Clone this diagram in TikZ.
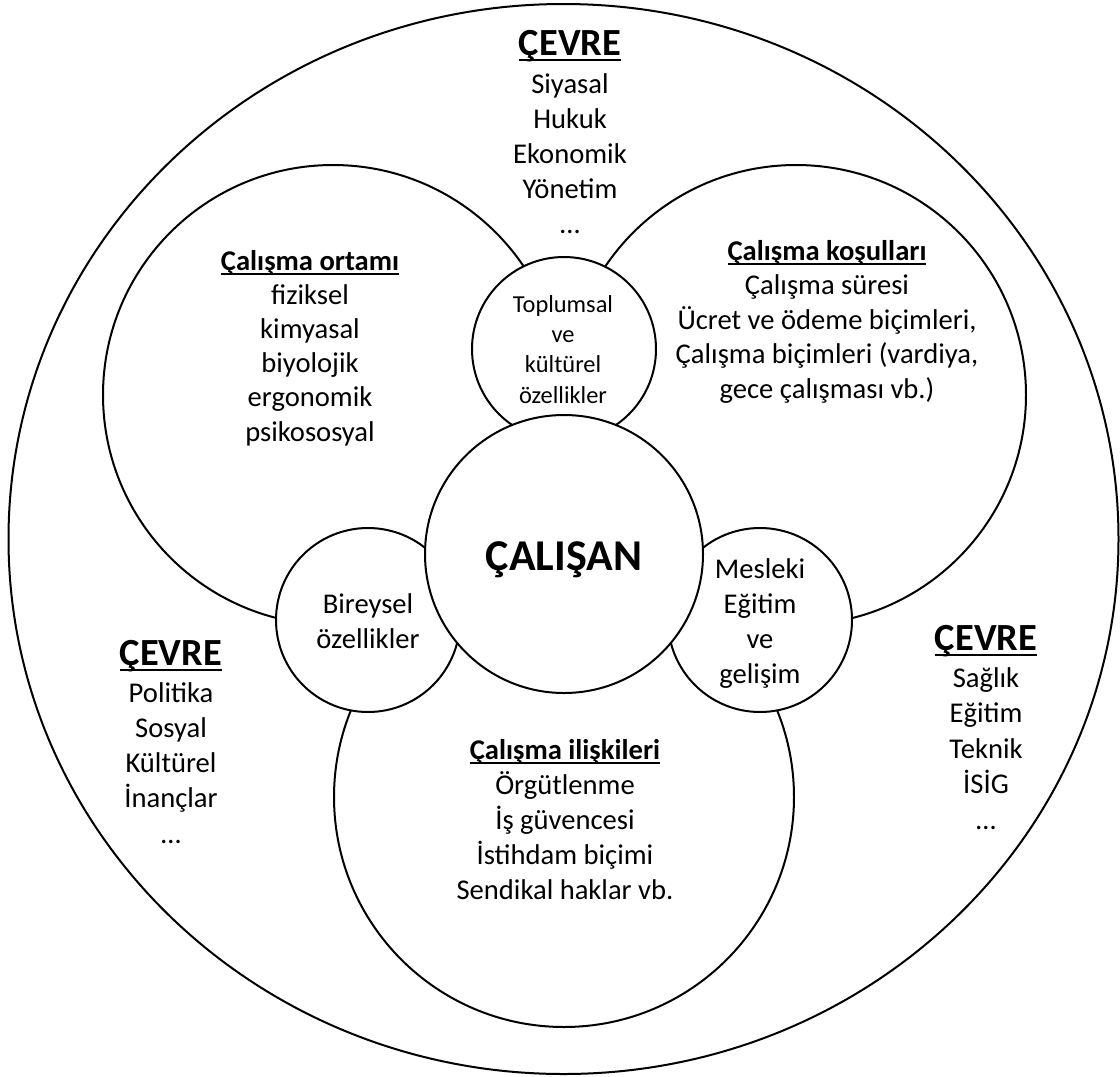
\documentclass[tikz,border=0pt]{standalone}
\usepackage{fontspec}
\setmainfont{Carlito}
\usetikzlibrary{shapes.geometric}
\newcommand\ulbox[1]{\leavevmode\setbox0\hbox{#1}\rlap{\rule[-0.165em]{\wd0}{0.055em}}\box0}
\begin{document}
\begin{tikzpicture}[x=0.5pt,y=-0.5pt,line width=1pt,
  circ/.style={circle, draw, fill=white, inner sep=0pt, minimum size=#1pt},
  txt/.style={anchor=base, align=center, inner sep=0pt, font=\fontsize{14.3}{17.5}\selectfont},
  small/.style={anchor=base, align=center, inner sep=0pt, font=\fontsize{12.2}{15.15}\selectfont},
  envhead/.style={anchor=base, inner sep=0pt, font=\fontsize{19.2}{23}\selectfont\bfseries}]
\useasboundingbox (0,0) rectangle (1120,1077);
% shapes
\node[ellipse, draw, inner sep=0pt, minimum width=555pt, minimum height=535pt] (env) at (563.5,539) {};
\node[circ=230] (ortam) at (333,395) {};
\node[circ=230] (kosul) at (796,395) {};
\node[circ=230] (iliski) at (564,797) {};
\node[circ=92] (toplum) at (564,349) {};
\node[circ=92] (birey) at (368,620) {};
\node[circ=92] (mesleki) at (760,620) {};
\node[circ=139] (calisan) at (564,554) {};
% environment texts (multi-line nodes: base = last line baseline)
\node[envhead] (cevreT) at (570,55) {\ulbox{ÇEVRE}};
\node[txt] (listT) at (570,233) {Siyasal\\Hukuk\\Ekonomik\\Yönetim\\…};
\node[envhead] (cevreL) at (171,665) {\ulbox{ÇEVRE}};
\node[txt, font=\fontsize{14.3}{17.6}\selectfont] (listL) at (171,843) {Politika\\Sosyal\\Kültürel\\İnançlar\\…};
\node[envhead] (cevreR) at (986,650) {\ulbox{ÇEVRE}};
\node[txt, font=\fontsize{14.3}{17.7}\selectfont] (listR) at (986,829) {Sağlık\\Eğitim\\Teknik\\İSİG\\…};
% circle texts
\node[txt, font=\fontsize{14.3}{17.1}\selectfont] (tOrtam) at (310,441) {\ulbox{\textbf{Çalışma ortamı}}\\fiziksel\\kimyasal\\biyolojik\\ergonomik\\psikososyal};
\node[txt, font=\fontsize{14.3}{17.25}\selectfont] (tKosul) at (827,398) {\ulbox{\textbf{Çalışma koşulları}}\\Çalışma süresi\\Ücret ve ödeme biçimleri,\\Çalışma biçimleri (vardiya,\\gece çalışması vb.)};
\node[txt] (tIliski) at (565,899) {\ulbox{\textbf{Çalışma ilişkileri}}\\Örgütlenme\\İş güvencesi\\İstihdam biçimi\\Sendikal haklar vb.};
\node[small] (tToplum) at (563,403) {Toplumsal\\ve\\kültürel\\özellikler};
\node[txt] (tBirey) at (368,648) {Bireysel\\özellikler};
\node[txt] (tMesleki) at (760,683) {Mesleki\\Eğitim\\ve\\gelişim};
\node[anchor=base, inner sep=0pt, font=\fontsize{22}{26}\selectfont\bfseries] (tCalisan) at (564,570) {ÇALIŞAN};
\end{tikzpicture}
\end{document}
